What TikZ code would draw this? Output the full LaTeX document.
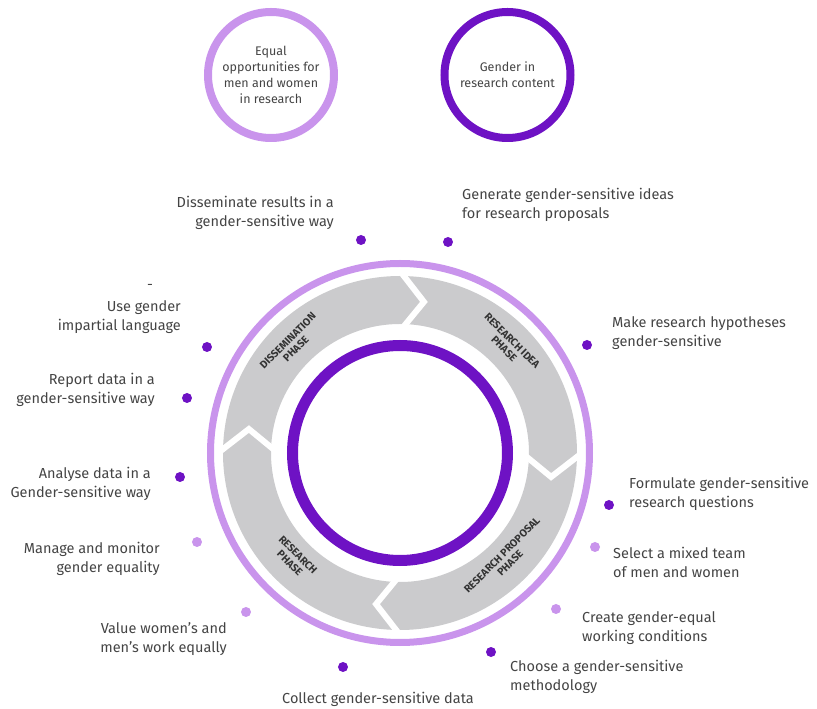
\documentclass[tikz,border=0pt]{standalone}
\usepackage{fontspec}
\setmainfont{Fira Sans}
\definecolor{darkpurple}{HTML}{6E12C4}
\definecolor{lightpurple}{HTML}{C994EC}
\definecolor{bandgrey}{HTML}{CBCBCD}
\definecolor{textgrey}{HTML}{444444}

\begin{document}
\begin{tikzpicture}[x=1pt, y=1pt,
  dot/.style={circle, inner sep=0pt, minimum size=10pt},
  darkdot/.style={dot, fill=darkpurple},
  lightdot/.style={dot, fill=lightpurple},
  task/.style={text=textgrey, inner sep=0pt, font=\fontsize{14.5}{19}\selectfont},
  phase/.style={align=center, text=black!80, inner sep=0pt, font=\bfseries\fontsize{10.5}{11.5}\selectfont},
  topic/.style={circle, line width=8pt, minimum size=126pt, align=center, text=textgrey, font=\fontsize{12.5}{16}\selectfont}]
\useasboundingbox (-400,-256) rectangle (417,453);

% Two aims on top
\node[topic, draw=lightpurple] (equal) at (-129,378) {Equal\\opportunities for\\men and women\\in research};
\node[topic, draw=darkpurple] (content) at (107.5,378) {Gender in\\research content};

% Cycle of phases
\fill[bandgrey, even odd rule] (0,0) circle (177) (0,0) circle (129);
\foreach \b in {90,0,-90,180}
  \draw[white, line width=6pt, line join=miter] (\b:122) -- (\b-9:153) -- (\b:182);
\draw[lightpurple, line width=7pt] (0,0) circle (189.5);
\draw[darkpurple, line width=11pt] (0,0) circle (107.5);

\node[phase, rotate=45] (dissemination) at (135:153) {DISSEMINATION\\PHASE};
\node[phase, rotate=-45] (idea) at (45:153) {RESEARCH IDEA\\PHASE};
\node[phase, rotate=45] (proposal) at (-45:150) {RESEARCH PROPOSAL\\PHASE};
\node[phase, rotate=-45] (research) at (-135:150) {RESEARCH\\PHASE};

% Dots round the cycle
\node[darkdot] (d1) at (-39,213) {};
\node[darkdot] (d2) at (48,211) {};
\node[darkdot] (d3) at (187,108) {};
\node[darkdot] (d4) at (209,-52) {};
\node[lightdot] (d5) at (195,-94) {};
\node[lightdot] (d6) at (156,-156) {};
\node[darkdot] (d7) at (91,-199) {};
\node[darkdot] (d8) at (-57,-214) {};
\node[lightdot] (d9) at (-154,-159) {};
\node[lightdot] (d10) at (-203,-89) {};
\node[darkdot] (d11) at (-220,-24) {};
\node[darkdot] (d12) at (-213,55) {};
\node[darkdot] (d13) at (-193,106) {};

% Tasks
\node[task, anchor=east, align=right] (disseminate) at (-66,240.5) {Disseminate results in a\\gender-sensitive way};
\node[task, anchor=west, align=left] (generate) at (62,248) {Generate gender-sensitive ideas\\for research proposals};
\node[task, anchor=west, align=left] (hypotheses) at (212,120) {Make research hypotheses\\gender-sensitive};
\node[task, anchor=west, align=left] (questions) at (229,-41) {Formulate gender-sensitive\\research questions};
\node[task, anchor=west, align=left] (team) at (213,-109) {Select a mixed team\\of men and women};
\node[task, anchor=west, align=left] (conditions) at (182,-175) {Create gender-equal\\working conditions};
\node[task, anchor=west, align=left] (methodology) at (110,-224) {Choose a gender-sensitive\\methodology};
\node[task] (collect) at (-22,-246) {Collect gender-sensitive data};
\node[task, anchor=east, align=right] (value) at (-173,-186) {Value women’s and\\men’s work equally};
\node[task, anchor=east, align=right] (manage) at (-240,-105.5) {Manage and monitor\\gender equality};
\node[task, anchor=east, align=right] (analyse) at (-249,-31) {Analyse data in a\\Gender-sensitive way};
\node[task, anchor=east, align=right] (report) at (-245,63.5) {Report data in a\\gender-sensitive way};
\node[task, anchor=east, align=right] (language) at (-219,135.5) {Use gender\\impartial language};
\node[task] (dash) at (-250,166) {-};

\end{tikzpicture}
\end{document}
